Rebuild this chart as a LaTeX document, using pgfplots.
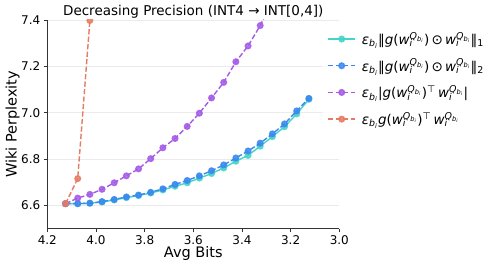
\documentclass[border=0pt]{standalone}
\usepackage{pgfplots}
\pgfplotsset{compat=1.18}
\usepackage{fontspec}
\setmainfont{DejaVu Sans}
\definecolor{cC}{RGB}{69,212,200}
\definecolor{cB}{RGB}{58,136,240}
\definecolor{cP}{RGB}{164,91,230}
\definecolor{cR}{RGB}{229,123,98}
\definecolor{gridc}{RGB}{235,235,235}
\newcommand{\ei}{\hspace*{4bp}\textit{ε}\textsubscript{\textit{b}\textsubscript{\textit{i}}}}
\newcommand{\wq}{\textit{w}\rlap{\textsubscript{\textit{i}}}\textsuperscript{\textit{Q}\textsubscript{\textit{b}\textsubscript{\textit{i}}}}}
\begin{document}
\begin{tikzpicture}
\path[use as bounding box] (-47.3bp,-39.3bp) rectangle (451.7bp,228.7bp);
\begin{axis}[
  at={(0,0)}, anchor=south west,
  scale only axis, width=292bp, height=208.7bp,
  xmin=3.0, xmax=4.2, x dir=reverse,
  ymin=6.5, ymax=7.4,
  xtick={3.0,3.2,3.4,3.6,3.8,4.0,4.2},
  ytick={6.6,6.8,7.0,7.2,7.4},
  /pgf/number format/assume math mode=true,
  /pgf/number format/.cd, fixed, fixed zerofill, precision=1, /pgfplots/.cd,
  ticklabel style={font=\fontsize{12bp}{14bp}\selectfont},
  axis x line*=bottom, axis y line*=left,
  axis line style={black!80, line width=0.8bp},
  tick style={black!80, line width=0.8bp},
  tick align=outside, major tick length=3.5bp,
  ymajorgrids, grid style={gridc, line width=0.8bp},
  clip marker paths=true,
  every axis title shift=0pt,
  title={Decreasing Precision (INT4 → INT[0,4])},
  title style={font=\fontsize{13.5bp}{16bp}\selectfont, at={(axis description cs:0.5,1)}, anchor=base, yshift=4bp, inner sep=0pt},
  xlabel={Avg Bits},
  ylabel={Wiki Perplexity},
  xlabel style={font=\fontsize{14.5bp}{17bp}\selectfont, at={(axis description cs:0.5,-0.118)}, anchor=center},
  ylabel style={font=\fontsize{14.5bp}{17bp}\selectfont, at={(axis description cs:-0.119,0.5)}, anchor=center},
  legend style={at={(1,1)}, anchor=north west, xshift=-16bp, yshift=-6bp, draw=none, fill=white, fill opacity=0.8, text opacity=1,
    font=\fontsize{13.5bp}{15bp}\selectfont, row sep=9bp, inner sep=4bp},
  legend cell align=left,
  legend image code/.code={\draw[mark repeat=2,mark phase=2] plot coordinates {(0bp,0bp) (13.5bp,0bp) (27bp,0bp)};},
  every axis plot/.append style={line width=1.4bp, mark=*, mark size=2.8bp},
]
\addplot[cC, solid, mark options={solid, fill=cC, draw=cC, opacity=0.85}] coordinates {
(4.125,6.608) (4.075,6.608) (4.025,6.610) (3.975,6.615) (3.925,6.624) (3.875,6.634) (3.825,6.643)
(3.775,6.654) (3.725,6.667) (3.675,6.683) (3.625,6.698) (3.575,6.718) (3.525,6.738) (3.475,6.762)
(3.425,6.791) (3.375,6.816) (3.325,6.856) (3.275,6.897) (3.225,6.940) (3.175,6.995) (3.125,7.058)};
\addlegendentry{\ei‖\textit{g}(\wq)\,⊙\,\wq‖\textsubscript{1}}
\addplot[cB, dash pattern=on 5.2bp off 2.3bp, mark options={solid, fill=cB, draw=cB, opacity=0.85}] coordinates {
(4.125,6.608) (4.075,6.608) (4.025,6.610) (3.975,6.617) (3.925,6.626) (3.875,6.637) (3.825,6.645)
(3.775,6.657) (3.725,6.672) (3.675,6.691) (3.625,6.708) (3.575,6.728) (3.525,6.750) (3.475,6.775)
(3.425,6.805) (3.375,6.835) (3.325,6.869) (3.275,6.909) (3.225,6.952) (3.175,7.008) (3.125,7.062)};
\addlegendentry{\ei‖\textit{g}(\wq)\,⊙\,\wq‖\textsubscript{2}}
\addplot[cP, dash pattern=on 5.2bp off 2.3bp, mark options={solid, fill=cP, draw=cP, opacity=0.85}] coordinates {
(4.125,6.608) (4.075,6.632) (4.025,6.648) (3.975,6.670) (3.925,6.698) (3.875,6.728) (3.825,6.758)
(3.775,6.802) (3.725,6.849) (3.675,6.889) (3.625,6.941) (3.575,6.998) (3.525,7.064) (3.475,7.131)
(3.425,7.220) (3.375,7.288) (3.325,7.376) (3.275,7.480)};
\addlegendentry{\ei|\textit{g}(\wq)\textsuperscript{⊤}\,\wq|}
\addplot[cR, dash pattern=on 5.2bp off 2.3bp, mark options={solid, fill=cR, draw=cR, opacity=0.85}] coordinates {
(4.125,6.608) (4.075,6.716) (4.025,7.398)};
\addlegendentry{\ei\textit{g}(\wq)\textsuperscript{⊤}\,\wq}
\end{axis}
\end{tikzpicture}
\end{document}
